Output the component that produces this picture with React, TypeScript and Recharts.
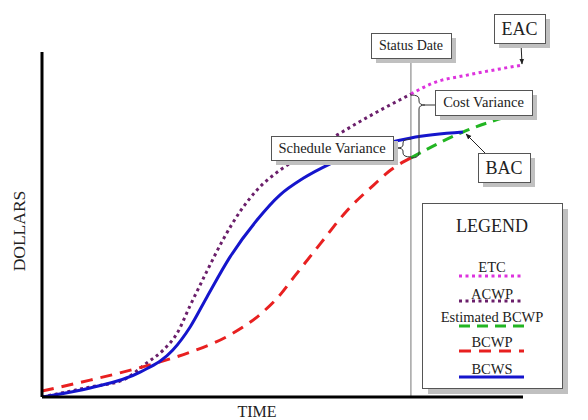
import { LineChart, Line, XAxis, YAxis, ReferenceLine, Legend } from "recharts";

// time (0-100) and dollars (0-100)
const BCWS_T = [0, 10, 20.4, 27.2, 30.8, 34.3, 39.1, 44.7, 49.5, 54.3, 59.9, 68.2, 76.7, 87.5];
const BCWS_D = [0, 2.6, 7.2, 13.6, 20.3, 29.0, 40.6, 51.3, 58.6, 63.4, 67.6, 72.2, 75.1, 76.8];

const ACWP_T = [0, 10, 16.8, 21.8, 25.2, 28.1, 30.8, 34.3, 37.6, 41.2, 44.7, 49.5, 54.3, 61.3, 68.2, 76.7];
const ACWP_D = [0, 2.9, 4.9, 9.9, 13.6, 18.5, 26.5, 36.5, 45.5, 53.8, 60.0, 65.8, 70.0, 75.9, 81.5, 87.8];

const ETC_T = [76.7, 81.3, 88.4, 95.2, 99.8];
const ETC_D = [87.8, 91.0, 93.3, 95.1, 96.2];

const BCWP_T = [0, 10, 16.8, 23.9, 30.8, 39.1, 45.9, 49.5, 52.4, 57.8, 63.4, 69.0, 72.5, 76.7];
const BCWP_D = [1.7, 4.9, 7.2, 9.9, 13.0, 18.0, 24.6, 29.6, 34.8, 44.3, 54.0, 61.5, 65.8, 69.3];

const EST_T = [76.7, 82.1, 87.5, 93.1, 99.6];
const EST_D = [69.3, 73.3, 76.8, 79.7, 82.3];

const STATUS_DATE = 76.7;

const toData = (t: number[], d: number[]) => t.map((v, i) => ({ t: v, d: d[i] }));

const SERIES = [
  { name: "ETC", color: "#DD33DD", dash: "3 3.5", data: toData(ETC_T, ETC_D) },
  { name: "ACWP", color: "#6B1F6B", dash: "3 3.5", data: toData(ACWP_T, ACWP_D) },
  { name: "Estimated BCWP", color: "#22B522", dash: "11 7", data: toData(EST_T, EST_D) },
  { name: "BCWP", color: "#E82020", dash: "12 8", data: toData(BCWP_T, BCWP_D) },
  { name: "BCWS", color: "#1515CC", dash: undefined, data: toData(BCWS_T, BCWS_D) },
];

const FONT = '"Liberation Serif", "Times New Roman", serif';
const TEXT = "#222";

function Box({ x, y, w, h, text, size }: { x: number; y: number; w: number; h: number; text: string; size: number }) {
  return (
    <g>
      <rect x={x + 5} y={y + 5} width={w} height={h} fill="#c0c0c0" />
      <rect x={x + 0.5} y={y + 0.5} width={w} height={h} fill="#fff" stroke="#555" strokeWidth={1} />
      <text x={x + w / 2} y={y + h / 2 + size * 0.34} textAnchor="middle" fontSize={size} fontFamily={FONT} fill={TEXT}>
        {text}
      </text>
    </g>
  );
}

function LegendBox() {
  const baselines = [69, 96, 119, 144, 171];
  const lines = [73, 98, 123, 148, 174];
  return (
    <svg width={148} height={192} style={{ display: "block" }}>
      <rect x={6} y={6} width={140} height={185} fill="#c0c0c0" />
      <rect x={0.5} y={0.5} width={140} height={185} fill="#fff" stroke="#555" strokeWidth={1} />
      <text x={70} y={29} textAnchor="middle" fontSize={18} fontFamily={FONT} fill={TEXT}>
        LEGEND
      </text>
      {SERIES.map((s, i) => (
        <g key={s.name}>
          <line x1={37} x2={102} y1={lines[i]} y2={lines[i]} stroke={s.color} strokeWidth={3} strokeDasharray={s.dash} />
          <text x={70} y={baselines[i]} textAnchor="middle" fontSize={14.5} fontFamily={FONT} fill={TEXT}>
            {s.name}
          </text>
        </g>
      ))}
    </svg>
  );
}

function Annotations() {
  return (
    <svg width={588} height={420} style={{ position: "absolute", left: 0, top: 0, pointerEvents: "none" }}>
      <defs>
        <marker id="arr" viewBox="0 0 10 10" refX="9" refY="5" markerWidth="6" markerHeight="6" orient="auto">
          <path d="M0,1 L10,5 L0,9 z" fill="#222" />
        </marker>
      </defs>
      <text x={19} y={231} transform="rotate(-90 19 231)" textAnchor="middle" dominantBaseline="central" fontSize={17.5} fontFamily={FONT} fill={TEXT}>
        DOLLARS
      </text>
      <text x={257} y={417} textAnchor="middle" fontSize={16} fontFamily={FONT} fill={TEXT}>
        TIME
      </text>

      {/* cost variance brace */}
      <path d="M411,95 Q419,95 419,99 L419,101 Q419,105 425,105 Q419,105 419,109 L419,153 Q419,158 411,158" fill="none" stroke="#333" strokeWidth={1} />
      <line x1={425} y1={105} x2={436} y2={105} stroke="#333" strokeWidth={1} />
      {/* schedule variance brace */}
      <path d="M411,139 Q403,139 403,143 L403,145 Q403,148 396,148 Q403,148 403,151 L403,153 Q403,157 411,157" fill="none" stroke="#333" strokeWidth={1} />

      <line x1={521} y1={43} x2={522} y2={64} stroke="#222" strokeWidth={1} markerEnd="url(#arr)" />
      <line x1={485} y1={153} x2={466} y2={134} stroke="#222" strokeWidth={1} markerEnd="url(#arr)" />

      <Box x={371} y={33} w={80} h={25} text="Status Date" size={14} />
      <Box x={494} y={14} w={51} h={29} text="EAC" size={18} />
      <Box x={435} y={90} w={97} h={25} text="Cost Variance" size={14.5} />
      <Box x={271} y={136} w={122} h={24} text="Schedule Variance" size={14.5} />
      <Box x={478} y={153} w={52} h={29} text="BAC" size={18} />
    </svg>
  );
}

export default function App() {
  return (
    <div style={{ position: "absolute", left: 0, top: 0, width: 588, height: 420, background: "#fff", fontFamily: FONT }}>
      <LineChart width={588} height={420} margin={{ top: 52, right: 65, bottom: 23, left: 42 }}>
        <XAxis dataKey="t" type="number" domain={[0, 100]} allowDataOverflow hide />
        <YAxis type="number" domain={[0, 100]} allowDataOverflow hide />
        <ReferenceLine x={STATUS_DATE} stroke="#777" strokeWidth={1} />
        {SERIES.map((s) => (
          <Line
            key={s.name}
            data={s.data}
            dataKey="d"
            name={s.name}
            type="monotone"
            stroke={s.color}
            strokeWidth={3}
            strokeDasharray={s.dash}
            dot={false}
            activeDot={false}
            isAnimationActive={false}
          />
        ))}
        {/* axes drawn as plain lines along the plot edges */}
        <ReferenceLine x={0} stroke="#000" strokeWidth={3} />
        <ReferenceLine y={0} stroke="#000" strokeWidth={3} />
        <Legend
          layout="vertical"
          align="center"
          verticalAlign="middle"
          wrapperStyle={{ left: 422, top: 203, width: 148, height: 192 }}
          content={() => <LegendBox />}
        />
      </LineChart>
      <Annotations />
    </div>
  );
}
